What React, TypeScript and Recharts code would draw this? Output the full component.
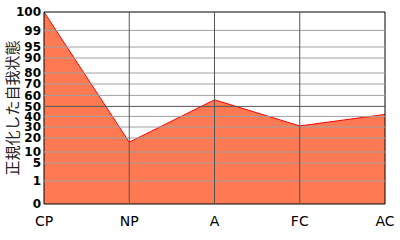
import { Area, AreaChart, ReferenceArea, ReferenceLine, XAxis, YAxis } from "recharts"

// egogram scores (percentile-like)
const categories = ["CP", "NP", "A", "FC", "AC"]
const scores = [100, 17, 56, 31, 42]

// the y axis is not linear: each tick label and where it sits on a 0..192 scale
const tickLabels = [0, 1, 5, 10, 20, 30, 40, 50, 60, 70, 80, 90, 95, 99, 100]
const tickScale = [0, 23, 41, 52, 66, 77, 87.6, 97.6, 108.6, 120, 131, 146, 157, 173.6, 192]

const yTitle = "正規化した自我状態"

const toScale = (v: number) => {
    for (let i = 1; i < tickLabels.length; i++) {
        if (v <= tickLabels[i]) {
            const a = tickLabels[i - 1], b = tickLabels[i]
            return tickScale[i - 1] + (tickScale[i] - tickScale[i - 1]) * (v - a) / (b - a)
        }
    }
    return tickScale[tickScale.length - 1]
}

const fromScale = (p: number) => {
    const i = tickScale.findIndex((t) => Math.abs(t - p) < 0.01)
    return i >= 0 ? String(tickLabels[i]) : ""
}

const data = categories.map((c, i) => ({ cat: c, v: toScale(scores[i]) }))

const tickFont = { fontFamily: "DejaVu Sans", fontWeight: "bold", fontSize: 12, fill: "#000" }

export default function App() {
    return (
        <div style={{ position: "absolute", left: 0, top: 0, width: 400, height: 240, background: "#fff" }}>
            <AreaChart width={400} height={240} data={data} margin={{ top: 12, right: 15, bottom: 0, left: 0 }}>
                <XAxis
                    dataKey="cat"
                    axisLine={false}
                    tickLine={false}
                    tickSize={0}
                    tickMargin={12}
                    height={36}
                    interval={0}
                    tick={{ fontFamily: "DejaVu Sans", fontSize: 14, fill: "#000" }}
                />
                <YAxis
                    type="number"
                    domain={[0, 192]}
                    ticks={tickScale}
                    tickFormatter={fromScale}
                    interval={0}
                    width={44}
                    axisLine={false}
                    tickLine={false}
                    tickSize={0}
                    tickMargin={3}
                    tick={tickFont}
                    label={{
                        content: () => (
                            <text
                                x={11}
                                y={108}
                                transform="rotate(-90 11 108)"
                                textAnchor="middle"
                                dominantBaseline="central"
                                fontFamily="Noto Sans CJK JP"
                                fontSize={15}
                                fill="#222"
                            >
                                {yTitle}
                            </text>
                        ),
                    }}
                />
                <Area
                    type="linear"
                    dataKey="v"
                    stroke="#ff0000"
                    strokeWidth={1}
                    fill="#ff7a52"
                    fillOpacity={1}
                    isAnimationActive={false}
                    dot={false}
                    activeDot={false}
                />
                {tickScale.slice(1, -1).map((t) => (
                    <ReferenceLine
                        key={t}
                        y={t}
                        stroke={fromScale(t) === "50" ? "#555" : "#a0a0a0"}
                        strokeWidth={1}
                    />
                ))}
                {categories.slice(1, -1).map((c) => (
                    <ReferenceLine key={c} x={c} stroke="#555" strokeWidth={1} />
                ))}
                <ReferenceArea
                    x1={categories[0]}
                    x2={categories[categories.length - 1]}
                    y1={0}
                    y2={192}
                    fill="none"
                    stroke="#000"
                    strokeWidth={1}
                />
            </AreaChart>
        </div>
    )
}
